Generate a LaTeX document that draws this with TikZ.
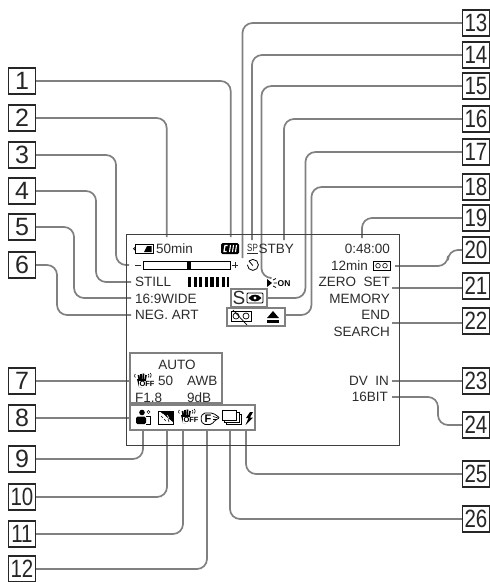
\documentclass[tikz,border=0pt]{standalone}
\usepackage{graphicx}
\usepackage{fontspec}
\setmainfont{Liberation Sans}
\usepackage{tikz}
\usetikzlibrary{calc}
\usepackage{xcolor}
\definecolor{leadgray}{gray}{0.5}
\definecolor{lcdtext}{gray}{0.17}
\tikzstyle{callout} = [draw=leadgray,line width=1.7pt,rounded corners=10pt]
\tikzstyle{lcdbox} = [draw=leadgray,line width=1.7pt]
\tikzstyle{numbox} = [draw=black!85,fill=white,line width=1.1pt,inner sep=0pt,minimum width=27pt,minimum height=26pt,text=black!85,font=\fontsize{25}{25}\selectfont]
\tikzstyle{lcd} = [inner sep=0pt,text=lcdtext,font=\fontsize{13.5}{15}\selectfont]
\newcommand{\twodigit}[1]{\scalebox{0.82}[1]{#1}}
\newcommand{\handicon}[3]{%
  \begin{scope}[shift={(#2,#3)}]
    \draw[black,line width=1.7pt] (5.5,2) -- (6.5,8);
    \draw[black,line width=1.7pt] (8,0.5) -- (8,8);
    \draw[black,line width=1.7pt] (10.5,0.5) -- (10,8);
    \draw[black,line width=1.7pt] (13,2) -- (12,8);
    \fill[black] (4,6) -- (13,6) -- (9,14) -- (6,14) -- cycle;
    \draw[black,line width=0.6pt] (2.5,1) arc[start angle=240,end angle=120,radius=2];
    \draw[black,line width=0.6pt] (15,1) arc[start angle=-60,end angle=60,radius=2];
    \draw[black,line width=0.6pt] (17,0) arc[start angle=-60,end angle=60,radius=2.5];
    \node[inner sep=0.4pt,fill=white,font=\bfseries\fontsize{7.5}{8}\selectfont] (#1) at (14,11) {OFF};
  \end{scope}}

\begin{document}
\begin{tikzpicture}[x=1pt,y=-1pt]
  \useasboundingbox (0,0) rectangle (490,582);

  % Free ends of the leaders
  \coordinate (end1) at (230.7,237);
  \coordinate (end2) at (166.7,237);
  \coordinate (end3) at (129,265);
  \coordinate (end4) at (131,282);
  \coordinate (end5) at (131,298);
  \coordinate (end6) at (131,315);
  \coordinate (end7) at (131,381);
  \coordinate (end8) at (131,418);
  \coordinate (end9) at (143,430);
  \coordinate (end10) at (167,430);
  \coordinate (end11) at (183,430);
  \coordinate (end12) at (207,430);
  \coordinate (end13) at (242.5,258);
  \coordinate (end14) at (252,240);
  \coordinate (end15) at (270,278);
  \coordinate (end16) at (284,240);
  \coordinate (end17) at (267,298);
  \coordinate (end18) at (285,315);
  \coordinate (end19) at (362,238);
  \coordinate (end20) at (395,266);
  \coordinate (end21) at (392,288);
  \coordinate (end22) at (392,323);
  \coordinate (end23) at (392,381);
  \coordinate (end24) at (392,397);
  \coordinate (end25) at (246,430);
  \coordinate (end26) at (230,430);

  % Left numbers
  \node[numbox] (n1) at (22,81) {1};
  \node[numbox] (n2) at (22,118) {2};
  \node[numbox] (n3) at (22,155) {3};
  \node[numbox] (n4) at (22,191) {4};
  \node[numbox] (n5) at (22,227) {5};
  \node[numbox] (n6) at (22,265) {6};
  \node[numbox] (n7) at (22,381) {7};
  \node[numbox] (n8) at (22,418) {8};
  \node[numbox] (n9) at (22,459) {9};
  \node[numbox] (n10) at (22,497) {\twodigit{10}};
  \node[numbox] (n11) at (22,534) {\twodigit{11}};
  \node[numbox] (n12) at (22,569) {\twodigit{12}};

  % Right numbers
  \node[numbox] (n13) at (476,23) {\twodigit{13}};
  \node[numbox] (n14) at (476,55) {\twodigit{14}};
  \node[numbox] (n15) at (476,86) {\twodigit{15}};
  \node[numbox] (n16) at (476,119) {\twodigit{16}};
  \node[numbox] (n17) at (476,152) {\twodigit{17}};
  \node[numbox] (n18) at (476,187) {\twodigit{18}};
  \node[numbox] (n19) at (476,218) {\twodigit{19}};
  \node[numbox] (n20) at (476,250) {\twodigit{20}};
  \node[numbox] (n21) at (476,286) {\twodigit{21}};
  \node[numbox] (n22) at (476,321) {\twodigit{22}};
  \node[numbox] (n23) at (476,381) {\twodigit{23}};
  \node[numbox] (n24) at (476,425) {\twodigit{24}};
  \node[numbox] (n25) at (476,474) {\twodigit{25}};
  \node[numbox] (n26) at (476,519) {\twodigit{26}};

  % Left leaders
  \draw[callout] (n1.east) -| (end1);
  \draw[callout] (n2.east) -| (end2);
  \draw[callout] (n3.east) -- ++(80,0) |- (end3);
  \draw[callout] (n4.east) -- ++(60,0) |- (end4);
  \draw[callout] (n5.east) -- ++(38,0) |- (end5);
  \draw[callout] (n6.east) -- ++(21,0) |- (end6);
  \draw[callout] (n7.east) -- (end7);
  \draw[callout] (n8.east) -- (end8);
  \draw[callout] (n9.east) -| (end9);
  \draw[callout] (n10.east) -| (end10);
  \draw[callout] (n11.east) -| (end11);
  \draw[callout] (n12.east) -| (end12);

  % Right leaders
  \draw[callout] (n13.west) -| (end13);
  \draw[callout] (n14.west) -| (end14);
  \draw[callout] (n15.west) -- ++(-200.5,0) |- (end15);
  \draw[callout] (n16.west) -| (end16);
  \draw[callout] (n17.west) -- ++(-156.5,0) |- (end17);
  \draw[callout] (n18.west) -- ++(-150.5,0) |- (end18);
  \draw[callout] (n19.west) -| (end19);
  \draw[callout] (end20) -- ++(53,0) |- (n20.west);
  \draw[callout] (end21) -- (n21.west |- end21);
  \draw[callout] (end22) -- (n22.west |- end22);
  \draw[callout] (end23) -- (n23.west);
  \draw[callout] (end24) -- ++(46,0) |- (n24.west);
  \draw[callout] (end25) |- (n25.west);
  \draw[callout] (end26) |- (n26.west);

  % Screen
  \draw[draw=black!75,line width=1pt] (126,234) rectangle (399,445);

  % Battery and time
  \draw[line width=0.7pt] (135.5,244.5) rectangle (153,253);
  \draw[line width=0.7pt] (135.5,247) -- (133.5,248.7) -- (135.5,250.5);
  \fill (144,252) -- (151.5,252) -- (151.5,246) -- (147,246) -- cycle;
  \node[lcd,anchor=west] (battery) at (156,249) {50min};

  % Cassette memory
  \fill[rounded corners=1.5pt] (221,243) rectangle (239,254);
  \draw[white,line width=1.3pt] (227.5,245.5) -- (225,245.5) -- (224,251.5) -- (226.5,251.5);
  \draw[white,line width=1.1pt] (229.5,252) -- (230.5,245);
  \draw[white,line width=1.1pt] (232.5,252) -- (233.5,245);
  \draw[white,line width=1.1pt] (235.5,252) -- (236.5,245);

  % Tape mode and standby
  \node[lcd,font=\fontsize{9.5}{10}\selectfont,anchor=west] (spmode) at (247,249) {\scalebox{0.85}[1.1]{\underline{SP}}};
  \node[lcd,anchor=west] (standby) at (258.5,249) {STBY};

  % Exposure bar
  \draw[line width=0.9pt,lcdtext] (135,265) -- (141,265);
  \draw[line width=0.7pt] (143,261) rectangle (230,269);
  \fill (187,261) rectangle (191,269);
  \draw[line width=0.9pt,lcdtext] (232,265) -- (238,265) (235,262) -- (235,268);

  % Self timer
  \draw[line width=0.8pt] (249,261) arc[start angle=-135,end angle=180,radius=5.5];
  \draw[line width=0.8pt] (249,261) -- (252.8,265.5);

  % Night shot
  \fill (267,279) -- (272,283) -- (267,287) -- cycle;
  \draw[line width=0.7pt] (273,280) -- (276,278.5) (273.5,283) -- (277,283) (273,286) -- (276,287.5);
  \node[lcd,text=black,font=\bfseries\fontsize{8.5}{9}\selectfont,anchor=west] (nighton) at (277.5,284) {ON};

  % Still level
  \node[lcd,anchor=west] (still) at (135,282) {STILL};
  \draw[line width=10pt,dash pattern=on 3.2pt off 2.4pt] (188,282) -- (229,282);
  \node[lcd,anchor=west] (wide) at (135,298.5) {16:9WIDE};
  \node[lcd,anchor=west] (negart) at (135,315) {NEG. ART};

  % Lock and tape boxes
  \draw[lcdbox] (231,289) rectangle (267,307);
  \draw[lcdbox] (227,308) rectangle (285,326);
  \node[lcd,font=\fontsize{19}{20}\selectfont,anchor=west] (slock) at (232.5,298) {S};
  \draw[line width=0.9pt,rounded corners=1pt] (247,293) rectangle (263,303);
  \fill (248.5,298) .. controls (252,293.5) and (258,293.5) .. (261.5,298) .. controls (258,302.5) and (252,302.5) .. (248.5,298);
  \fill[white] (255,298) circle (1.6);
  \draw[line width=0.7pt] (231,311) rectangle (251,321);
  \draw[line width=0.7pt] (236,316) circle (3) (246,316) circle (3);
  \draw[line width=0.7pt] (233,310) -- (247,325);
  \fill (267,318) -- (279,318) -- (273,311) -- cycle;
  \fill (267,320) rectangle (279,323);

  % Counter column
  \node[lcd,anchor=east] (counter) at (390,249) {0:48:00};
  \node[lcd,anchor=east] (remain) at (368,266) {12min};
  \draw[line width=0.7pt] (373,261) rectangle (390,270.5);
  \draw[line width=0.6pt] (378,265.7) circle (2.3) (385,265.7) circle (2.3);
  \node[lcd,anchor=east] (zeroset) at (390,282) {ZERO\ \ SET};
  \node[lcd,anchor=east] (memory) at (390,299) {MEMORY};
  \node[lcd,anchor=east] (endsearch) at (390,315) {END};
  \node[lcd,anchor=east] (search) at (390,332) {SEARCH};
  \node[lcd,anchor=east] (dvin) at (389,381) {DV\ \ IN};
  \node[lcd,anchor=east] (bits) at (388,397) {16BIT};

  % Camera data box
  \draw[lcdbox] (130,353) rectangle (222,403);
  \node[lcd] (auto) at (177,365) {AUTO};
  \handicon{offa}{133}{373}
  \node[lcd,anchor=west] (shutter) at (158,381) {50};
  \node[lcd,anchor=west] (awb) at (187,381) {AWB};
  \node[lcd,anchor=west] (iris) at (135,398) {F1.8};
  \node[lcd,anchor=west] (gain) at (187,398) {9dB};

  % Mode icons box
  \draw[lcdbox,fill=white] (130,405) rectangle (255,430);
  % person
  \fill (142,412.5) circle (2.8);
  \fill[rounded corners=1.5pt] (136,424) rectangle (146,416.5);
  \draw[line width=0.5pt] (148.5,412) circle (1.6);
  \draw[line width=0.5pt] (146,416.5) -- (150,416.5) -- (150,424) -- (146,424);
  % backlight
  \draw[line width=0.7pt] (158,411.5) rectangle (173,424);
  \fill (160,411.5) -- (173,411.5) -- (173,422) -- cycle;
  \draw[white,line width=0.6pt] (163,414) -- (165,416) (167,415) -- (169,418);
  \draw[line width=0.6pt] (161,416) -- (163,418) (164,419) -- (166,421) (168,419) -- (169,422);
  % steady shot off
  \handicon{offb}{177}{409}
  % program fader
  \draw[line width=0.8pt,rounded corners=2pt] (203,413) -- (213,413) -- (220,418) -- (215,420) -- (212,424.5) -- (203,424.5) -- (200.5,418.5) -- cycle;
  \draw[line width=0.6pt] (213,416.5) -- (218,418) (213,419.5) -- (216,419.5);
  \node[inner sep=0pt,font=\bfseries\fontsize{11}{11}\selectfont] (fader) at (208,418.7) {F};
  % frames
  \draw[line width=0.8pt,fill=white] (226,414) rectangle (241,424);
  \draw[line width=0.8pt,fill=white] (224,412) rectangle (239,422);
  \draw[line width=1pt,fill=white] (222,410.5) rectangle (236.5,420);
  % flash
  \fill (250,412) -- (246,418) -- (248.5,418) -- (245.5,425) -- (253,417.5) -- (250,417.5) -- (253,412) -- cycle;
\end{tikzpicture}
\end{document}
